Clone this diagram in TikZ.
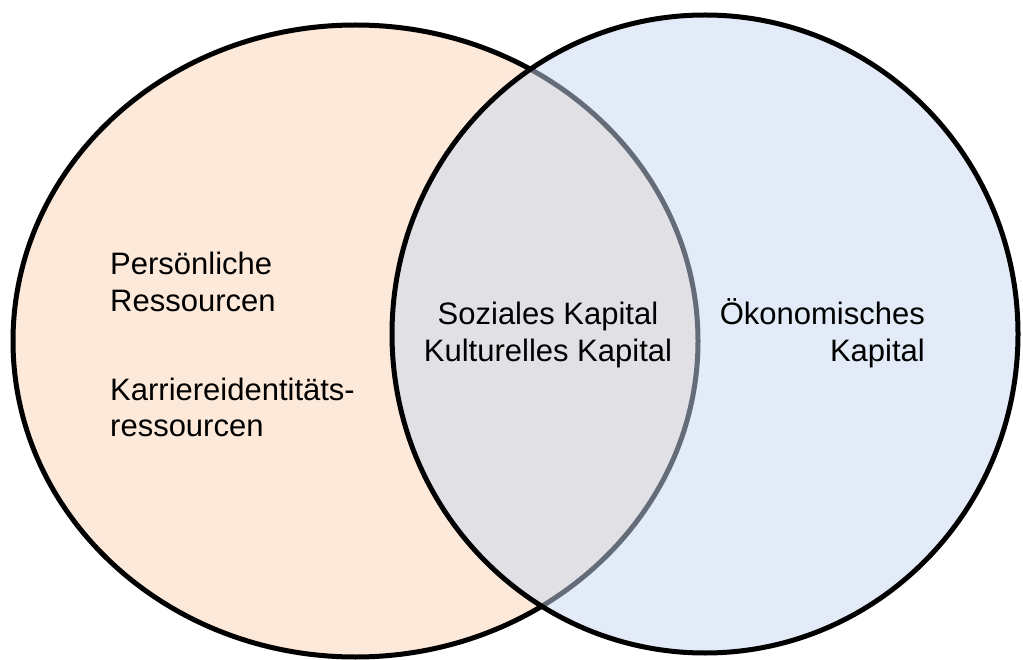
\documentclass[tikz,border=0pt]{standalone}
\usepackage{fontspec}
\setmainfont{Liberation Sans}
\definecolor{peach}{HTML}{FDE9D9}
\definecolor{skyblue}{HTML}{C6D9F1}
\begin{document}
\begin{tikzpicture}[x=1pt,y=-1pt,
  ring/.style={draw=black,line width=5pt},
  lbl/.style={inner sep=0pt,font=\fontsize{31}{37}\selectfont}]
\useasboundingbox (0,0) rectangle (1023,660);
\fill[white] (0,0) rectangle (1023,660);
% left set
\draw[ring,fill=peach] (355.5,341) ellipse [x radius=342.5pt, y radius=316pt];
% right set (semi-transparent fill)
\draw[ring,fill=skyblue,fill opacity=0.5] (705,334) ellipse [x radius=313pt, y radius=319pt];
% left texts
\node[lbl,anchor=base west] (p1) at (110,275) {Persönliche};
\node[lbl,anchor=base west] (p2) at (110,312) {Ressourcen};
\node[lbl,anchor=base west] (k1) at (110,400) {Karriereidentitäts-};
\node[lbl,anchor=base west] (k2) at (110,436) {ressourcen};
% middle texts
\node[lbl,anchor=base] (m1) at (548,325) {Soziales Kapital};
\node[lbl,anchor=base] (m2) at (548,362) {Kulturelles Kapital};
% right texts
\node[lbl,anchor=base east] (r1) at (925,325) {Ökonomisches};
\node[lbl,anchor=base east] (r2) at (925,362) {Kapital};
\end{tikzpicture}
\end{document}
